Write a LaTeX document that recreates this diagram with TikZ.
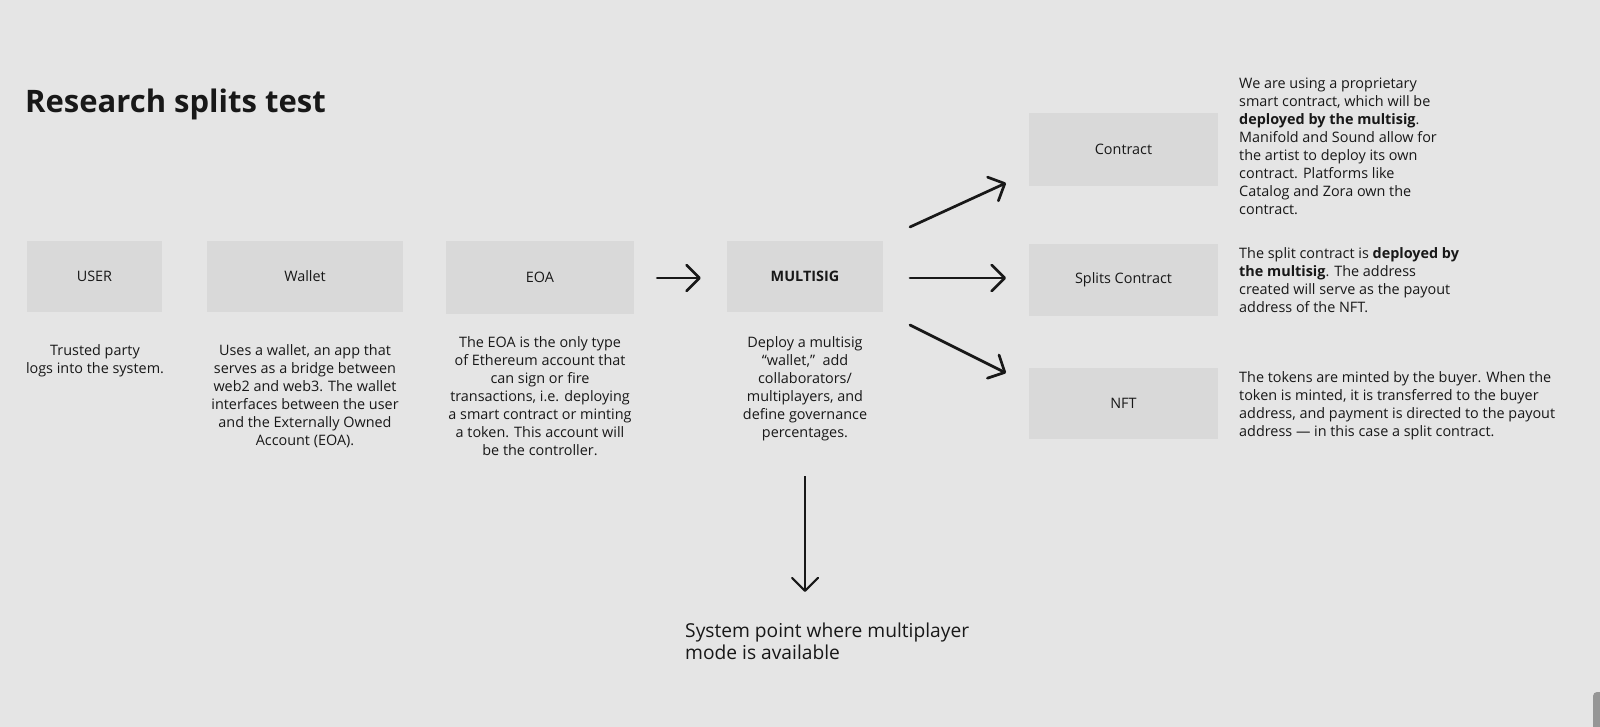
\documentclass[tikz,border=0pt]{standalone}
\usepackage{fontspec}
\setmainfont{Open Sans}
\usetikzlibrary{arrows.meta}
\definecolor{bg}{RGB}{229,229,229}
\definecolor{boxfill}{RGB}{217,217,217}
\definecolor{ink}{RGB}{24,24,24}
\definecolor{scrollc}{RGB}{150,150,150}
\begin{document}
\begin{tikzpicture}[x=1pt,y=-1pt,
  box/.style={fill=boxfill, draw=none, inner sep=0pt, text=ink, font=\fontsize{14.4}{18}\selectfont},
  desc/.style={inner sep=0pt, text=ink, font=\fontsize{14.4}{18}\selectfont, anchor=north},
  arr/.style={draw=ink, line width=2.7pt, line cap=round, -{Straight Barb[length=13pt,width=26pt,round]}},
  arrthin/.style={draw=ink, line width=2.1pt, -{Straight Barb[length=13pt,width=26pt,round]}}]
\fill[bg] (0,0) rectangle (1600,727);
\useasboundingbox (0,0) rectangle (1600,727);
\begin{scope}
\clip (0,0) rectangle (1600,727);
\fill[scrollc, rounded corners=4pt] (1593,692) rectangle (1612,740);
\end{scope}

\node[anchor=base west, inner sep=0pt, text=ink, font=\fontsize{31}{38}\selectfont\bfseries] (title) at (25,113) {Research splits test};

\node[box, minimum width=135pt, minimum height=71pt] (user) at (94.5,276.5) {USER};
\node[box, minimum width=196pt, minimum height=71pt] (wallet) at (305,276.5) {Wallet};
\node[box, minimum width=188pt, minimum height=73pt] (eoa) at (540,277.5) {EOA};
\node[box, minimum width=156pt, minimum height=71pt, font=\fontsize{14.4}{18}\selectfont\bfseries] (ms) at (805,276.5) {MULTISIG};
\node[box, minimum width=189pt, minimum height=73pt] (contract) at (1123.5,149.5) {Contract};
\node[box, minimum width=189pt, minimum height=72pt] (splits) at (1123.5,280) {Splits Contract};
\node[box, minimum width=189pt, minimum height=71pt] (nft) at (1123.5,403.5) {NFT};

\node[desc, align=center] (userd) at (95,344.5) {Trusted party\\logs into the system.};
\node[desc, align=center] (walletd) at (305,344.5) {Uses a wallet, an app that\\serves as a bridge between\\web2 and web3. The wallet\\interfaces between the user\\and the Externally Owned\\Account (EOA).};
\node[desc, align=center] (eoad) at (540,336.5) {The EOA is the only type\\of Ethereum account that\\can sign or fire\\transactions, i.e. deploying\\a smart contract or minting\\a token. This account will\\be the controller.};
\node[desc, align=center] (msd) at (805,336.5) {Deploy a multisig\\“wallet,”~ add\\collaborators/\\multiplayers, and\\define governance\\percentages.};

\node[desc, anchor=north west, align=left] (contractd) at (1239,77.5) {We are using a proprietary\\smart contract, which will be\\\textbf{deployed by the multisig}.\\Manifold and Sound allow for\\the artist to deploy its own\\contract. Platforms like\\Catalog and Zora own the\\contract.};
\node[desc, anchor=north west, align=left] (splitsd) at (1239,247.5) {The split contract is \textbf{deployed by}\\\textbf{the multisig}. The address\\created will serve as the payout\\address of the NFT.};
\node[desc, anchor=north west, align=left] (nftd) at (1239,371.5) {The tokens are minted by the buyer. When the\\token is minted, it is transferred to the buyer\\address, and payment is directed to the payout\\address — in this case a split contract.};

\node[anchor=north west, inner sep=0pt, align=left, text=ink, font=\fontsize{19.2}{22}\selectfont] (sys) at (685,623) {System point where multiplayer\\mode is available};

\coordinate (a1s) at (910,227);
\coordinate (a1e) at (1006,183);
\coordinate (a2s) at (910,278);
\coordinate (a2e) at (1006,278);
\coordinate (a3s) at (910,325);
\coordinate (a3e) at (1006,373);
\coordinate (a4s) at (805,476);
\coordinate (a4e) at (805,592);

\draw[arr, shorten <=23pt, shorten >=26pt] (eoa.east |- 0,278) -- (ms.west |- 0,278);
\draw[arr] (a1s) -- (a1e);
\draw[arr] (a2s) -- (a2e);
\draw[arr] (a3s) -- (a3e);
\draw[arrthin] (a4s) -- (a4e);
\end{tikzpicture}
\end{document}
